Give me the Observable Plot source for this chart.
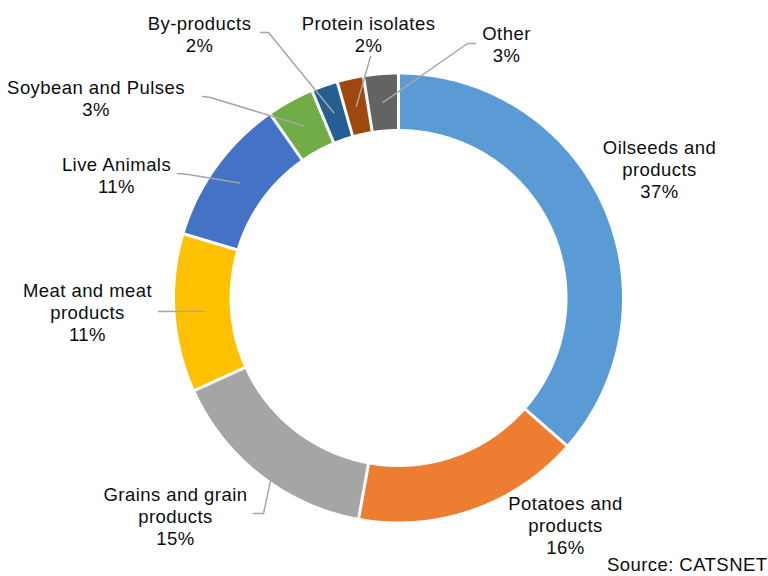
<!DOCTYPE html>
<html><head><meta charset="utf-8">
<script src="https://cdn.jsdelivr.net/npm/d3@7"></script>
<script src="https://cdn.jsdelivr.net/npm/@observablehq/plot@0.6"></script>
<style>html,body{margin:0;padding:0;background:#fff}#chart svg{display:block}</style>
</head><body><div id="chart"></div>
<script>
// ---- data ----
const categories = ["Oilseeds and products", "Potatoes and products", "Grains and grain products", "Meat and meat products", "Live Animals", "Soybean and Pulses", "By-products", "Protein isolates", "Other"];
const shares = [36.5, 16.4, 15.4, 11.4, 10.7, 3.4, 1.9, 1.9, 2.5];
const pctLabels = ["37%", "16%", "15%", "11%", "11%", "3%", "2%", "2%", "3%"];
const nameLabels = ["Oilseeds and\nproducts", "Potatoes and\nproducts", "Grains and grain\nproducts", "Meat and meat\nproducts", "Live Animals", "Soybean and Pulses", "By-products", "Protein isolates", "Other"];
const colors = ["#5B9BD5", "#ED7D31", "#A5A5A5", "#FFC000", "#4472C4", "#70AD47", "#255E91", "#9E480E", "#636363"];
const sourceText = "Source: CATSNET";

// ---- layout ----
const W = 768, H = 576, cx = 398, cy = 297.5, R = 223.5, r0 = 169;
const labelPos = [[659, 168.5], [565, 524], [175, 515], [87, 311], [116, 174.5], [95.5, 97.5], [199, 33.5], [368, 33.5], [506, 43.5]];
// leader elbows (label side) + how the leader ends in the ring
const leaders = [
  null, null,
  {pts: [[253, 513], [263, 513]], rEnd: R, dAng: -3},
  {pts: [[158, 311]]},
  {pts: [[177, 173], [188, 174]]},
  {pts: [[202, 96], [210, 97]]},
  {pts: [[260, 32], [268, 32]]},
  {pts: [[370, 56]]},
  {pts: [[475, 43], [467, 43]]}
];

const pie = d3.pie().sort(null).value(d => d)(shares);
const pt = (rad, a) => [cx + rad * Math.sin(a), cy - rad * Math.cos(a)];

// ring polygons
const ringPts = [];
pie.forEach((p, i) => {
  const n = Math.max(2, Math.ceil((p.endAngle - p.startAngle) / (Math.PI / 360)));
  for (let k = 0; k <= n; k++) {
    const a = p.startAngle + (p.endAngle - p.startAngle) * k / n;
    const [x, y] = pt(R, a); ringPts.push({name: categories[i], x, y});
  }
  for (let k = n; k >= 0; k--) {
    const a = p.startAngle + (p.endAngle - p.startAngle) * k / n;
    const [x, y] = pt(r0, a); ringPts.push({name: categories[i], x, y});
  }
});
// separators
const seps = pie.map(p => {
  const [x1, y1] = pt(r0 - 2, p.startAngle), [x2, y2] = pt(R + 2, p.startAngle);
  return {x1, y1, x2, y2};
});
// leader lines
const leaderPts = [];
leaders.forEach((L, i) => {
  if (!L) return;
  L.pts.forEach(([x, y]) => leaderPts.push({name: categories[i], x, y}));
  const p = pie[i];
  const a = (p.startAngle + p.endAngle) / 2 + (L.dAng || 0) * Math.PI / 180;
  const [x, y] = pt(L.rEnd || (R + r0) / 2, a);
  leaderPts.push({name: categories[i], x, y});
});
const labels = categories.map((c, i) => ({name: c, text: nameLabels[i] + "\n" + pctLabels[i], x: labelPos[i][0], y: labelPos[i][1]}));

const chart = Plot.plot({
  width: W, height: H, margin: 0,
  x: {domain: [0, W], range: [0, W], axis: null},
  y: {domain: [0, H], range: [0, H], axis: null},
  color: {domain: categories, range: colors},
  style: "font-family: 'Liberation Sans', Arial, sans-serif; letter-spacing: 0.45px; background: #fff;",
  marks: [
    Plot.line(ringPts, {x: "x", y: "y", z: "name", fill: "name", stroke: "none", curve: "linear-closed"}),
    Plot.link(seps, {x1: "x1", y1: "y1", x2: "x2", y2: "y2", stroke: "white", strokeWidth: 3}),
    Plot.line(leaderPts, {x: "x", y: "y", z: "name", stroke: "#A6A6A6", strokeWidth: 1.5}),
    Plot.text(labels, {x: "x", y: "y", text: "text", textAnchor: "middle", lineAnchor: "middle", lineHeight: 1.19, fontSize: 18.5, fill: "#0d0d0d"}),
    Plot.text([sourceText], {frameAnchor: "bottom-right", dx: -1, dy: -11, textAnchor: "end", lineAnchor: "middle", fontSize: 18.5, fill: "#0d0d0d"})
  ]
});
document.getElementById("chart").appendChild(chart);
</script>
</body></html>
